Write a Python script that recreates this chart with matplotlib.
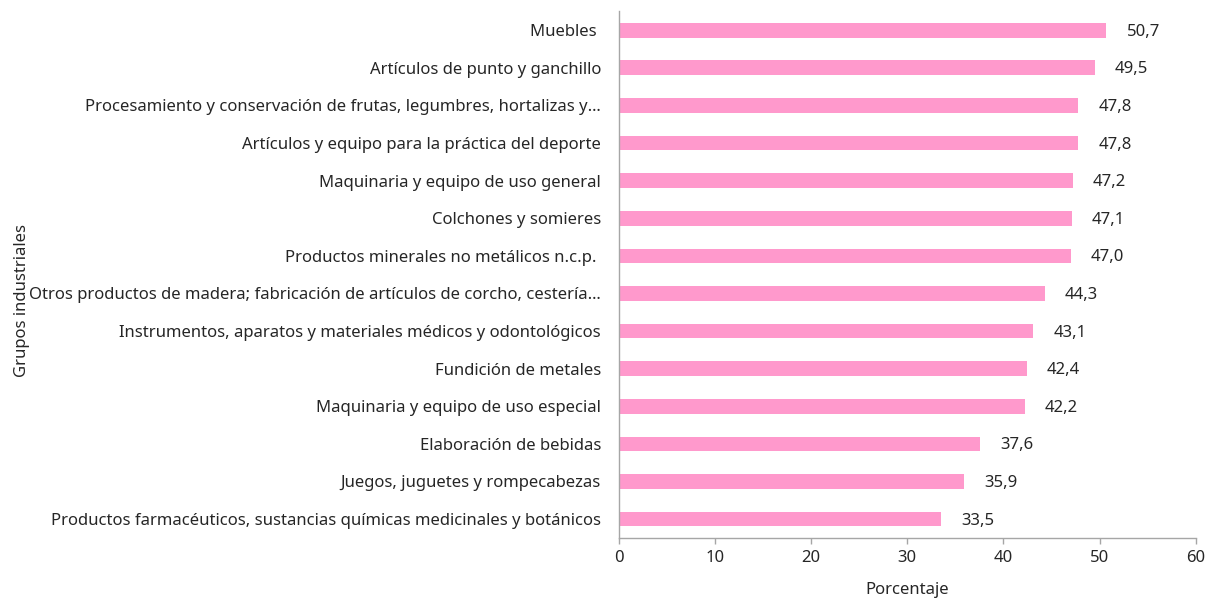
import matplotlib
matplotlib.use("Agg")
import matplotlib.pyplot as plt

# data, top to bottom as in the chart
grupos = [
    "Muebles ",
    "Artículos de punto y ganchillo",
    "Procesamiento y conservación de frutas, legumbres, hortalizas y…",
    "Artículos y equipo para la práctica del deporte",
    "Maquinaria y equipo de uso general",
    "Colchones y somieres",
    "Productos minerales no metálicos n.c.p. ",
    "Otros productos de madera; fabricación de artículos de corcho, cestería…",
    "Instrumentos, aparatos y materiales médicos y odontológicos",
    "Fundición de metales",
    "Maquinaria y equipo de uso especial",
    "Elaboración de bebidas",
    "Juegos, juguetes y rompecabezas",
    "Productos farmacéuticos, sustancias químicas medicinales y botánicos",
]
porcentaje = [50.7, 49.5, 47.8, 47.8, 47.2, 47.1, 47.0, 44.3, 43.1, 42.4, 42.2, 37.6, 35.9, 33.5]

plt.rcParams['font.family'] = ['Noto Sans', 'DejaVu Sans']
txt = "#262626"
gris = "#a6a6a6"
fs = 12

fig = plt.figure(figsize=(12.09, 6.01), dpi=100)
ax = fig.add_axes([0.512, 0.105, 0.477, 0.876])

pos = list(range(len(grupos)))
ax.barh(pos, porcentaje, height=0.39, color="#ff99cc")
for p, v in zip(pos, porcentaje):
    ax.text(v + 2.1, p + 0.04, f"{v:.1f}".replace(".", ","), va="center", ha="left",
            fontsize=fs, color=txt)

ax.set_xlim(0, 60)
ax.set_ylim(13.5, -0.5)
ax.set_xticks(range(0, 61, 10))
ax.set_yticks(pos)
ax.set_yticklabels(grupos)
ax.tick_params(axis="y", length=0, pad=13, labelsize=fs, labelcolor=txt)
ax.tick_params(axis="x", length=4, width=1, color=gris, direction="out",
               labelsize=fs, labelcolor=txt, pad=5)

for s in ["top", "right"]:
    ax.spines[s].set_visible(False)
for s in ["left", "bottom"]:
    ax.spines[s].set_color(gris)
    ax.spines[s].set_linewidth(1)

ax.set_xlabel("Porcentaje", fontsize=fs, color=txt, labelpad=11)
fig.text(0.018, 0.5, "Grupos industriales", rotation=90, va="center", ha="center",
         fontsize=fs, color=txt)

fig.savefig("out.png", dpi=100)
